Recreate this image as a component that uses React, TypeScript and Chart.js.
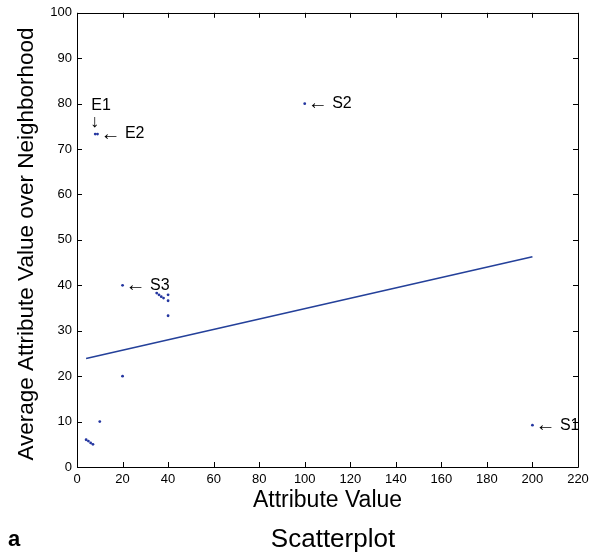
import React, { useEffect, useRef } from "react";
import { Chart, registerables } from "chart.js";

Chart.register(...registerables);

// Scatter data (Attribute Value vs Average Attribute Value over Neighborhood)
const attrValues = [4, 5, 6, 7, 10, 8, 9, 20, 20, 35, 36, 37, 38, 40, 40, 40, 100, 200];
const neighborAvg = [6, 5.7, 5.3, 5.0, 10, 73.3, 73.3, 40, 20, 38.3, 37.9, 37.5, 37.2, 37.9, 36.6, 33.3, 80, 9.2];

// Regression line end points
const fitX = [4, 200];
const fitY = [23.9, 46.3];

// Annotations: "← label" to the right of point
const annoLabels = ["S1", "S2", "S3", "E2"];
const annoX = [200, 100, 20, 9];
const annoY = [9.2, 80, 40, 73.3];
// "E1" with down arrow above point
const e1Label = "E1";
const e1X = 8;
const e1Y = 73.3;

const xTicks = [0, 20, 40, 60, 80, 100, 120, 140, 160, 180, 200, 220];
const yTicks = [0, 10, 20, 30, 40, 50, 60, 70, 80, 90, 100];

const FONT = "'Liberation Sans', Arial, Helvetica, sans-serif";

const decorPlugin = {
  id: "decor",
  afterDraw(chart: any) {
    const ctx = chart.ctx;
    const xs = chart.scales.x;
    const ys = chart.scales.y;
    const { left, right, top, bottom } = chart.chartArea;
    ctx.save();
    // box
    ctx.strokeStyle = "#000";
    ctx.lineWidth = 1;
    ctx.beginPath();
    ctx.rect(Math.round(left) + 0.5, Math.round(top) + 0.5, Math.round(right - left), Math.round(bottom - top));
    ctx.stroke();
    // inward ticks
    const tl = 5;
    ctx.beginPath();
    for (const v of xTicks) {
      const px = Math.round(xs.getPixelForValue(v)) + 0.5;
      ctx.moveTo(px, bottom);
      ctx.lineTo(px, bottom - tl);
      ctx.moveTo(px, top);
      ctx.lineTo(px, top + tl);
    }
    for (const v of yTicks) {
      const py = Math.round(ys.getPixelForValue(v)) + 0.5;
      ctx.moveTo(left, py);
      ctx.lineTo(left + tl, py);
      ctx.moveTo(right, py);
      ctx.lineTo(right - tl, py);
    }
    ctx.stroke();

    // annotations
    ctx.fillStyle = "#000";
    ctx.textBaseline = "middle";
    ctx.textAlign = "left";
    for (let i = 0; i < annoLabels.length; i++) {
      const px = xs.getPixelForValue(annoX[i]);
      const py = ys.getPixelForValue(annoY[i]);
      ctx.font = `20px ${FONT}`;
      ctx.fillText("\u2190", px + 3, py);
      const aw = ctx.measureText("\u2190").width;
      ctx.font = `16px ${FONT}`;
      ctx.fillText(" " + annoLabels[i], px + 3 + aw, py);
    }
    {
      const px = xs.getPixelForValue(e1X);
      const py = ys.getPixelForValue(e1Y);
      ctx.font = `16px ${FONT}`;
      ctx.fillText(e1Label, px - 4, py - 28);
      ctx.font = `18px ${FONT}`;
      ctx.fillText("\u2193", px - 5, py - 12);
    }

    // axis titles
    ctx.textAlign = "center";
    ctx.font = `23px ${FONT}`;
    ctx.fillText("Attribute Value", (left + right) / 2, 501);
    ctx.font = `22.5px ${FONT}`;
    ctx.save();
    ctx.translate(27, 244);
    ctx.rotate(-Math.PI / 2);
    ctx.fillText("Average Attribute Value over Neighborhood", 0, 0);
    ctx.restore();

    // caption
    ctx.font = `26px ${FONT}`;
    ctx.fillText("Scatterplot", 333, 540);
    ctx.textAlign = "left";
    ctx.font = `bold 22px ${FONT}`;
    ctx.fillText("a", 8, 540);
    ctx.restore();
  },
};

export default function App() {
  const ref = useRef<HTMLCanvasElement>(null);
  useEffect(() => {
    if (!ref.current) return;
    const chart = new Chart(ref.current, {
      type: "scatter",
      data: {
        datasets: [
          {
            type: "line",
            data: fitX.map((x, i) => ({ x, y: fitY[i] })),
            borderColor: "#24409a",
            borderWidth: 1.6,
            pointRadius: 0,
            fill: false,
          } as any,
          {
            data: attrValues.map((x, i) => ({ x, y: neighborAvg[i] })),
            backgroundColor: "#2436a0",
            borderColor: "#2436a0",
            pointRadius: 1.4,
            borderWidth: 0,
          },
        ],
      },
      options: {
        animation: false,
        responsive: true,
        maintainAspectRatio: false,
        layout: { padding: { left: 0, right: 24, top: 11, bottom: 0 } },
        plugins: { legend: { display: false }, tooltip: { enabled: false } },
        scales: {
          x: {
            type: "linear",
            min: 0,
            max: 220,
            afterFit: (s: any) => {
              s.height = 90;
            },
            afterBuildTicks: (s: any) => {
              s.ticks = xTicks.map((v) => ({ value: v }));
            },
            grid: { display: false, drawTicks: false },
            border: { display: false },
            ticks: {
              color: "#000",
              padding: 5,
              maxRotation: 0,
              font: { family: FONT, size: 13 },
            },
          },
          y: {
            type: "linear",
            min: 0,
            max: 100,
            afterFit: (s: any) => {
              s.width = 77;
            },
            afterBuildTicks: (s: any) => {
              s.ticks = yTicks.map((v) => ({ value: v }));
            },
            grid: { display: false, drawTicks: false },
            border: { display: false },
            ticks: {
              color: "#000",
              padding: 5,
              font: { family: FONT, size: 13 },
            },
          },
        },
      },
      plugins: [decorPlugin],
    });
    return () => chart.destroy();
  }, []);
  return (
    <div style={{ position: "fixed", left: 0, top: 0, width: 602, height: 557, background: "#fff" }}>
      <canvas ref={ref} />
    </div>
  );
}
